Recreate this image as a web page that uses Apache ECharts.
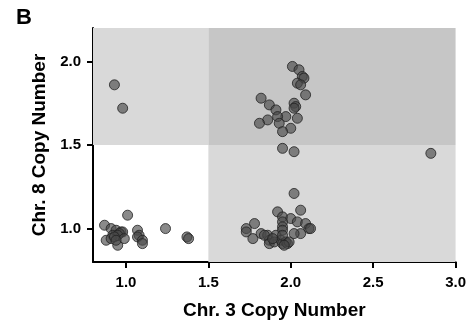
<!DOCTYPE html>
<html>
<head>
<meta charset="utf-8">
<script src="https://cdn.jsdelivr.net/npm/echarts@6/dist/echarts.min.js"></script>
<style>
  html, body { margin: 0; padding: 0; background: #fff; }
  #chart { width: 469px; height: 327px; }
</style>
</head>
<body>
<div id="chart"></div>
<script>
// chr3 / chr8 copy number per cell
const topLeft = [[0.93, 1.86], [0.98, 1.72]];

const topRight = [
  [2.01, 1.97], [2.05, 1.95], [2.07, 1.91], [2.08, 1.90], [2.04, 1.87], [2.06, 1.86],
  [2.09, 1.80], [1.82, 1.78], [1.87, 1.74], [1.91, 1.71], [2.02, 1.75], [2.03, 1.73],
  [2.02, 1.72], [1.97, 1.67], [1.92, 1.67], [2.04, 1.66], [1.93, 1.63], [1.86, 1.65],
  [1.81, 1.63], [2.00, 1.60], [1.95, 1.58]
];

const bottomRight = [
  [1.95, 1.48], [2.02, 1.46], [2.85, 1.45],
  [2.02, 1.21], [2.06, 1.11], [1.92, 1.10], [1.95, 1.07], [2.00, 1.06], [1.95, 1.04],
  [2.04, 1.04], [2.09, 1.03], [1.95, 1.01], [1.95, 0.99], [2.11, 1.00], [2.12, 1.00],
  [2.06, 0.97], [2.02, 0.97], [1.78, 1.03], [1.73, 1.00], [1.73, 0.98], [1.77, 0.94],
  [1.82, 0.97], [1.86, 0.96], [1.87, 0.93], [1.87, 0.91], [1.91, 0.96], [1.90, 0.92],
  [1.94, 0.93], [1.95, 0.91], [1.97, 0.92], [1.98, 0.91], [1.95, 0.96], [1.99, 0.92],
  [1.96, 0.90], [1.84, 0.96], [1.89, 0.94]
];

const bottomLeft = [
  [0.87, 1.02], [0.91, 1.00], [0.94, 0.99], [0.97, 0.98], [0.98, 0.98], [0.96, 0.97],
  [0.92, 0.96], [0.95, 0.96], [0.88, 0.93], [0.91, 0.94], [0.93, 0.95], [0.95, 0.90],
  [0.99, 0.94], [0.94, 0.93], [1.01, 1.08], [1.07, 0.99], [1.08, 0.96], [1.07, 0.95],
  [1.10, 0.93], [1.10, 0.91], [1.24, 1.00], [1.37, 0.95], [1.38, 0.94]
];

const xTicks = [1.0, 1.5, 2.0, 2.5, 3.0];
const yTicks = [1.0, 1.5, 2.0];
const cutoff = 1.5;

const chart = echarts.init(document.getElementById('chart'));

const axisCommon = {
  axisLine: { lineStyle: { color: '#000', width: 2 } },
  splitLine: { show: false },
  nameLocation: 'middle',
  nameTextStyle: { fontSize: 19, fontWeight: 'bold', color: '#000', fontFamily: 'Liberation Sans' }
};

const option = {
  animation: false,
  title: {
    text: 'B',
    left: 11,
    top: 2,
    textStyle: { fontSize: 22, fontWeight: 'bold', color: '#000', fontFamily: 'Liberation Sans' }
  },
  grid: { left: 93, right: 12, top: 28, bottom: 65 },
  xAxis: {
    ...axisCommon,
    type: 'value',
    min: 0.8,
    max: 3.0,
    name: 'Chr. 3 Copy Number',
    nameGap: 39,
    axisTick: { show: true, length: 6, lineStyle: { color: '#000', width: 2 }, customValues: xTicks },
    axisLabel: {
      customValues: xTicks,
      margin: 13,
      fontSize: 15,
      fontWeight: 'bold',
      color: '#000',
      fontFamily: 'Liberation Sans',
      formatter: v => v.toFixed(1)
    }
  },
  yAxis: {
    ...axisCommon,
    type: 'value',
    min: 0.8,
    max: 2.2,
    name: 'Chr. 8 Copy Number',
    nameGap: 43,
    axisTick: { show: true, length: 6, lineStyle: { color: '#000', width: 2 }, customValues: yTicks },
    axisLabel: {
      customValues: yTicks,
      margin: 12,
      fontSize: 15,
      fontWeight: 'bold',
      color: '#000',
      fontFamily: 'Liberation Sans',
      formatter: v => v.toFixed(1)
    }
  },
  series: [
    {
      type: 'scatter',
      data: [],
      silent: true,
      z: 1,
      markArea: {
        silent: true,
        data: [
          [{ xAxis: 0.8, yAxis: cutoff, itemStyle: { color: '#d9d9d9' } }, { xAxis: cutoff, yAxis: 2.2 }],
          [{ xAxis: cutoff, yAxis: cutoff, itemStyle: { color: '#c6c6c6' } }, { xAxis: 3.0, yAxis: 2.2 }],
          [{ xAxis: cutoff, yAxis: 0.8, itemStyle: { color: '#d9d9d9' } }, { xAxis: 3.0, yAxis: cutoff }]
        ]
      }
    },
    {
      type: 'scatter',
      z: 3,
      symbolSize: 10,
      data: [...topLeft, ...topRight, ...bottomRight, ...bottomLeft],
      itemStyle: {
        color: 'rgba(72,72,72,0.8)',
        borderColor: '#222',
        borderWidth: 1
      }
    }
  ]
};

chart.setOption(option);
</script>
</body>
</html>
